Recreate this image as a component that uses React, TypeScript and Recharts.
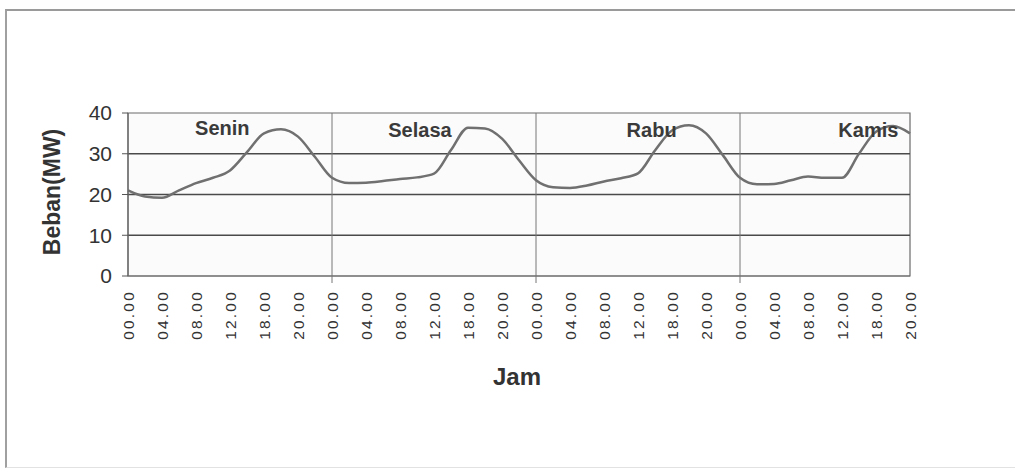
import React from "react";
import {
  LineChart,
  Line,
  XAxis,
  YAxis,
  CartesianGrid,
  ReferenceLine,
  ReferenceArea,
  ReferenceDot,
  Label,
} from "recharts";

// hours since Monday 00.00, every 2 hours
const jamData = [
  0, 2, 4, 6, 8, 10, 12, 14, 16, 18, 20, 22,
  24, 26, 28, 30, 32, 34, 36, 38, 40, 42, 44, 46,
  48, 50, 52, 54, 56, 58, 60, 62, 64, 66, 68, 70,
  72, 74, 76, 78, 80, 82, 84, 86, 88, 90, 92,
];

// load (MW)
const bebanData = [
  21, 19.5, 19.2, 21, 22.8, 24.1, 25.9, 30.4, 35, 36, 34.2, 29.2,
  24.1, 22.8, 22.9, 23.3, 23.8, 24.2, 25.1, 30.9, 36.4, 36.2, 33.7, 28.4,
  23.5, 21.8, 21.6, 22.2, 23.2, 24, 25.2, 30.8, 35.7, 37, 35, 29.6,
  24.1, 22.5, 22.6, 23.5, 24.4, 24.1, 24.1, 30, 35.4, 36.8, 35,
];

const xTickHours = [
  0, 4, 8, 12, 16, 20, 24, 28, 32, 36, 40, 44,
  48, 52, 56, 60, 64, 68, 72, 76, 80, 84, 88, 92,
];
const xTickLabels = [
  "00.00", "04.00", "08.00", "12.00", "18.00", "20.00",
  "00.00", "04.00", "08.00", "12.00", "18.00", "20.00",
  "00.00", "04.00", "08.00", "12.00", "18.00", "20.00",
  "00.00", "04.00", "08.00", "12.00", "18.00", "20.00",
];
const yTicks = [0, 10, 20, 30, 40];
const gridValues = [10, 20, 30];
const dayBoundaries = [24, 48, 72];

const dayNames = ["Senin", "Selasa", "Rabu", "Kamis"];
const dayLabelHours = [11.1, 34.35, 61.6, 87.1];
const dayLabelValues = [36.3, 35.8, 35.8, 35.8];

const chartData = jamData.map((jam, i) => ({ jam, beban: bebanData[i] }));

const FONT = "'Liberation Sans', Arial, sans-serif";
const TEXT = "#333";

function JamTick(props: any) {
  const { x, y, payload } = props;
  const idx = xTickHours.indexOf(payload.value);
  const label = xTickLabels[idx] ?? "";
  const isBoundary = dayBoundaries.includes(payload.value);
  return (
    <g>
      {isBoundary && (
        <line x1={x} y1={y - 8} x2={x} y2={y - 1} stroke="#777" strokeWidth={1} />
      )}
      <text
        x={x}
        y={y + 6}
        transform={`rotate(-90, ${x}, ${y + 6})`}
        textAnchor="end"
        dominantBaseline="central"
        fontFamily={FONT}
        fontSize={15.5}
        letterSpacing={2.2}
        fill={TEXT}
      >
        {label}
      </text>
    </g>
  );
}

export default function App() {
  return (
    <div
      style={{
        position: "absolute",
        left: 0,
        top: 0,
        width: 1015,
        height: 470,
        background: "#fff",
      }}
    >
      <div
        style={{
          position: "absolute",
          left: 5,
          top: 9,
          width: 1010,
          height: 459,
          borderTop: "2px solid #9a9a9a",
          borderLeft: "2px solid #a0a0a0",
          borderBottom: "1px solid #e2e2e2",
          boxSizing: "border-box",
        }}
      />
      <div style={{ position: "absolute", left: 0, top: 0 }}>
        <LineChart
          width={1015}
          height={470}
          data={chartData}
          margin={{ top: 113, right: 105, left: 68, bottom: 84 }}
        >
          <CartesianGrid vertical={false} horizontal={false} fill="#fbfbfb" />
          {gridValues.map((v) => (
            <ReferenceLine key={v} y={v} stroke="#4a4a4a" strokeWidth={1.3} />
          ))}
          {dayBoundaries.map((h) => (
            <ReferenceLine key={h} x={h} stroke="#777" strokeWidth={1} />
          ))}
          <ReferenceArea
            x1={0}
            x2={92}
            y1={0}
            y2={40}
            fill="none"
            stroke="#6a6a6a"
            strokeWidth={1.2}
          />
          <XAxis
            dataKey="jam"
            type="number"
            domain={[0, 92]}
            ticks={xTickHours}
            interval={0}
            height={110}
            tickLine={false}
            axisLine={{ stroke: "#6a6a6a", strokeWidth: 1.2 }}
            tick={<JamTick />}
          >
            <Label
              content={() => (
                <text
                  x={517}
                  y={376}
                  textAnchor="middle"
                  dominantBaseline="central"
                  fontFamily={FONT}
                  fontWeight="bold"
                  fontSize={24}
                  fill={TEXT}
                >
                  Jam
                </text>
              )}
            />
          </XAxis>
          <YAxis
            type="number"
            domain={[0, 40]}
            ticks={yTicks}
            width={60}
            tickSize={6}
            tickMargin={10}
            tickLine={{ stroke: "#555" }}
            axisLine={{ stroke: "#6a6a6a", strokeWidth: 1.2 }}
            tick={{ fontFamily: FONT, fontSize: 21, fill: TEXT }}
          >
            <Label
              content={() => (
                <text
                  x={52}
                  y={192}
                  transform="rotate(-90, 52, 192)"
                  textAnchor="middle"
                  dominantBaseline="central"
                  fontFamily={FONT}
                  fontWeight="bold"
                  fontSize={23}
                  fill={TEXT}
                >
                  Beban(MW)
                </text>
              )}
            />
          </YAxis>
          {dayNames.map((name, i) => (
            <ReferenceDot
              key={name}
              x={dayLabelHours[i]}
              y={dayLabelValues[i]}
              r={0}
              stroke="none"
              label={{
                value: name,
                position: "center",
                fontFamily: FONT,
                fontWeight: "bold",
                fontSize: 20,
                fill: "#3a3a3a",
              }}
            />
          ))}
          <Line
            type="monotone"
            dataKey="beban"
            stroke="#707070"
            strokeWidth={2.5}
            dot={false}
            isAnimationActive={false}
          />
        </LineChart>
      </div>
    </div>
  );
}
